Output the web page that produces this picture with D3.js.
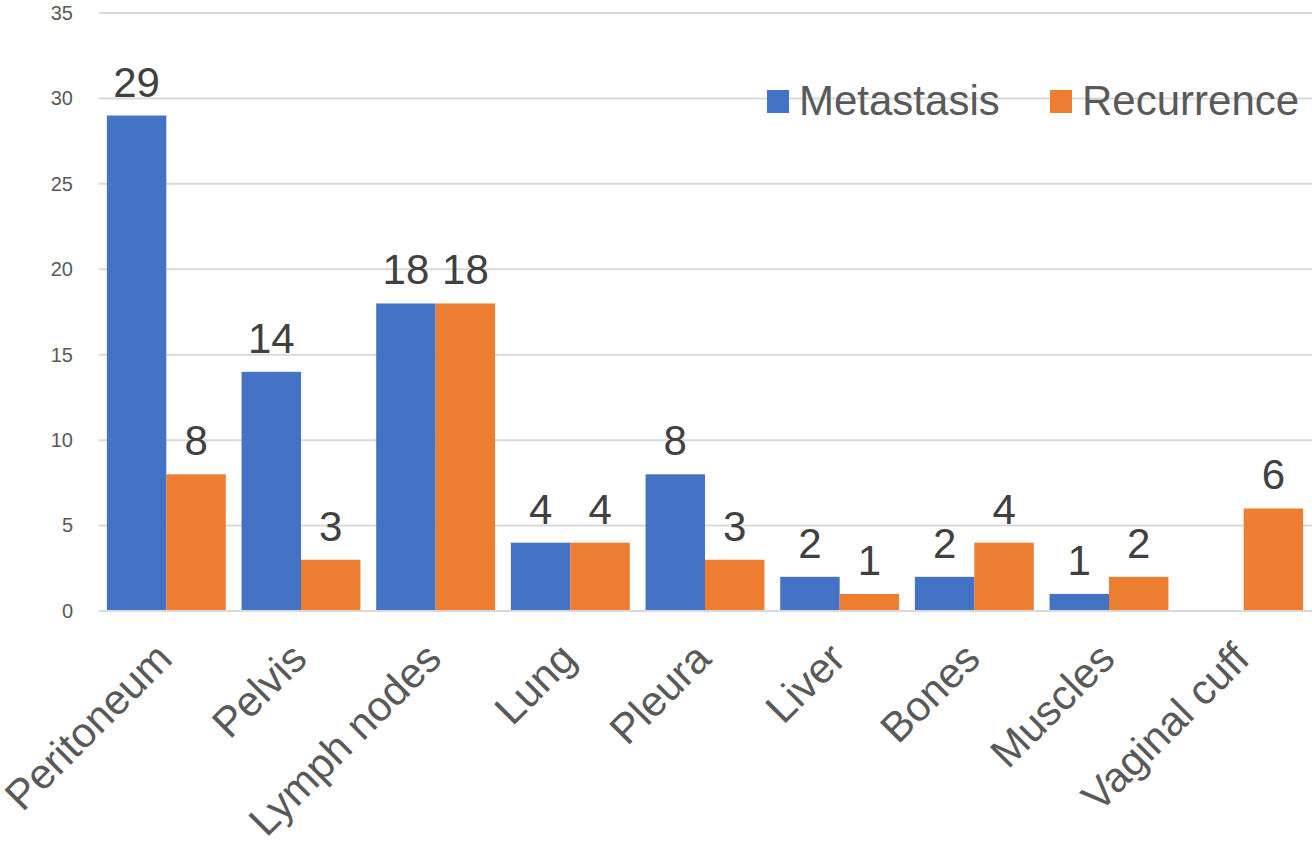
<!DOCTYPE html>
<html><head><meta charset="utf-8">
<script src="https://cdn.jsdelivr.net/npm/d3@7"></script>
<style>body{margin:0;background:#fff;}svg{display:block;font-family:"Liberation Sans",Arial,sans-serif;}</style>
</head><body>
<svg id="c" width="1312" height="847"></svg>
<script>
const categories = ["Peritoneum","Pelvis","Lymph nodes","Lung","Pleura","Liver","Bones","Muscles","Vaginal cuff"];
const metastasis = [29,14,18,4,8,2,2,1,null];
const recurrence = [8,3,18,4,3,1,4,2,6];
const seriesNames = ["Metastasis","Recurrence"];
const yTicks = [0,5,10,15,20,25,30,35];
const colors = ["#4472C4","#ED7D31"];

(function(){
const svg = d3.select("#c");
const pL = 99, pR = 1311, pT = 13, pB = 611;
const x = d3.scaleBand().domain(categories).range([pL,pR]).paddingInner(0.117).paddingOuter(0.0585);
const xs = d3.scaleBand().domain(seriesNames).range([0,x.bandwidth()]);
const y = d3.scaleLinear().domain([0,35]).range([pB,pT]);

// gridlines
svg.append("g").selectAll("line").data(yTicks).join("line")
  .attr("x1",pL).attr("x2",1312).attr("y1",d=>y(d)).attr("y2",d=>y(d))
  .attr("stroke","#d9d9d9").attr("stroke-width",2);

// y axis labels
const yAxis = d3.axisLeft(y).tickValues(yTicks).tickSize(0).tickPadding(0);
const ya = svg.append("g").attr("transform","translate(73,0)").call(yAxis);
ya.select(".domain").remove();
ya.selectAll("text").attr("font-size",20).attr("fill","#595959").attr("font-family","Liberation Sans, Arial, sans-serif");

const data = [metastasis, recurrence];
data.forEach((vals,si)=>{
  const g = svg.append("g");
  const pts = categories.map((c,i)=>({c, v:vals[i]})).filter(d=>d.v!=null);
  g.selectAll("rect").data(pts).join("rect")
    .attr("x",d=>x(d.c)+xs(seriesNames[si]))
    .attr("width",xs.bandwidth())
    .attr("y",d=>y(d.v)).attr("height",d=>y(0)-y(d.v))
    .attr("fill",colors[si]);
  g.selectAll("text").data(pts).join("text")
    .attr("x",d=>x(d.c)+xs(seriesNames[si])+xs.bandwidth()/2)
    .attr("y",d=>y(d.v)-19)
    .attr("text-anchor","middle").attr("font-size",42).attr("fill","#404040")
    .text(d=>d.v);
});

// baseline
svg.append("line").attr("x1",pL).attr("x2",1312).attr("y1",y(0)).attr("y2",y(0))
  .attr("stroke","#d9d9d9").attr("stroke-width",2);

// x labels
const xAxis = d3.axisBottom(x).tickSize(0).tickPadding(0);
const xa = svg.append("g").attr("transform",`translate(0,${pB})`).call(xAxis);
xa.select(".domain").remove();
xa.selectAll("text")
  .attr("font-size",42).attr("fill","#595959").attr("font-family","Liberation Sans, Arial, sans-serif")
  .attr("text-anchor","end").attr("dy",null).attr("y",0).attr("x",0)
  .attr("transform","translate(8,50) rotate(-45)");

// legend
const legX = [767, 1050];
const leg = svg.append("g");
seriesNames.forEach((n,i)=>{
  leg.append("rect").attr("x",legX[i]).attr("y",90).attr("width",22).attr("height",23).attr("fill",colors[i]);
  leg.append("text").attr("x",legX[i]+32).attr("y",115).attr("font-size",42).attr("fill","#595959").text(n);
});
})();
</script>
</body></html>
